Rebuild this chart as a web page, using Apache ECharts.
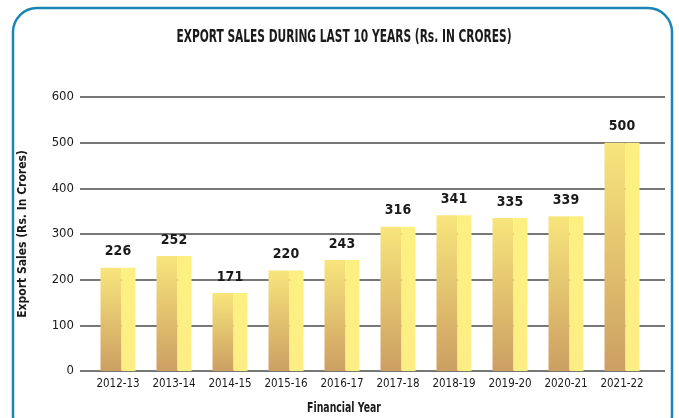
<!DOCTYPE html>
<html>
<head>
<meta charset="utf-8">
<script src="https://cdn.jsdelivr.net/npm/echarts@6/dist/echarts.min.js"></script>
<style>
html,body{margin:0;padding:0;background:#fff;}
#chart{width:679px;height:418px;}
</style>
</head>
<body>
<div id="chart"></div>
<script>
const categories = ['2012-13','2013-14','2014-15','2015-16','2016-17','2017-18','2018-19','2019-20','2020-21','2021-22'];
const exportSales = [226, 252, 171, 220, 243, 316, 341, 335, 339, 500];
const yTicks = [0, 100, 200, 300, 400, 500, 600];

const FONT = '"DejaVu Sans Condensed","Liberation Sans Narrow",Arial,sans-serif';
const chart = echarts.init(document.getElementById('chart'));
chart.setOption({
  animation: false,
  backgroundColor: '#ffffff',
  graphic: [
    {type: 'rect', shape: {x: 13, y: 8, width: 659, height: 432, r: 24},
      style: {fill: 'none', stroke: '#1b86b4', lineWidth: 2.5}, z: 100},
    {type: 'text', x: 344, y: 37, scaleX: 0.74, scaleY: 1.1,
      style: {text: 'EXPORT SALES DURING LAST 10 YEARS (Rs. IN CRORES)', font: 'bold 16px ' + FONT,
        fill: '#1a1a1a', textAlign: 'center', textVerticalAlign: 'middle',
        shadowColor: 'rgba(0,0,0,0.35)', shadowBlur: 1, shadowOffsetX: 0.5, shadowOffsetY: 0.5}},
    {type: 'text', x: 344, y: 408, scaleX: 0.8, scaleY: 1.05,
      style: {text: 'Financial Year', font: 'bold 13px ' + FONT, fill: '#1a1a1a',
        textAlign: 'center', textVerticalAlign: 'middle'}}
  ],
  grid: [
    {left: 80, right: 14, top: 97, bottom: 47},
    {left: 90, right: 29, top: 97, bottom: 47}
  ],
  xAxis: [
    {gridIndex: 0, type: 'value', min: 0, max: 1, show: false},
    {gridIndex: 1, type: 'category', data: categories,
      axisLine: {show: false}, axisTick: {show: false},
      axisLabel: {interval: 0, margin: 7, fontFamily: FONT, fontSize: 11.5, color: '#1a1a1a'}}
  ],
  yAxis: [
    {gridIndex: 0, type: 'value', min: yTicks[0], max: yTicks[yTicks.length-1], interval: 100,
      name: 'Export Sales (Rs. In Crores)', nameLocation: 'middle', nameGap: 51,
      nameTextStyle: {fontFamily: FONT, fontWeight: 'bold', fontSize: 12, color: '#1a1a1a'},
      axisLine: {show: false}, axisTick: {show: false},
      axisLabel: {margin: 6, fontFamily: FONT, fontSize: 13, color: '#1a1a1a'},
      splitLine: {lineStyle: {color: '#777777', width: 2}}},
    {gridIndex: 1, type: 'value', min: 0, max: 600, show: false, splitLine: {show: false}}
  ],
  series: [
    {type: 'bar', xAxisIndex: 1, yAxisIndex: 1, data: exportSales, barWidth: 21, barGap: '0%',
      itemStyle: {color: new echarts.graphic.LinearGradient(0, 0, 0, 1, [
        {offset: 0, color: '#f8e57c'}, {offset: 1, color: '#cc9f62'}])},
      label: {show: true, position: 'top', offset: [7, -4], fontFamily: FONT, fontWeight: 'bold', fontSize: 14, color: '#1a1a1a'},
      z: 3},
    {type: 'bar', xAxisIndex: 1, yAxisIndex: 1, data: exportSales, barWidth: 14, barGap: '0%',
      itemStyle: {color: new echarts.graphic.LinearGradient(0, 0, 0, 1, [
        {offset: 0, color: '#fdf082'}, {offset: 1, color: '#fcee85'}])},
      z: 3}
  ]
});
</script>
</body>
</html>
